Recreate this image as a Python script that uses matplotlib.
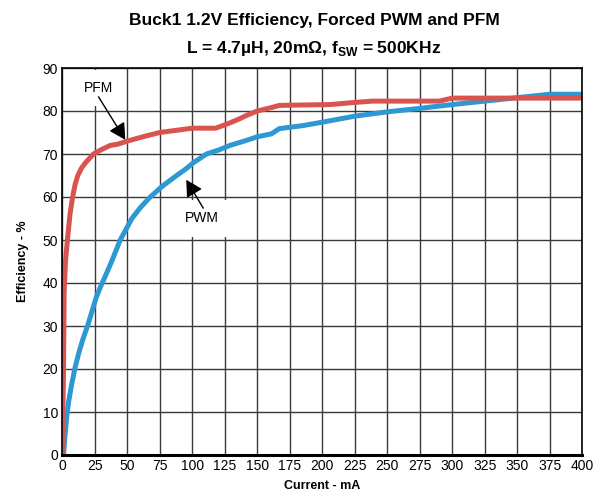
import matplotlib
matplotlib.use("Agg")
import matplotlib.pyplot as plt

plt.rcParams['font.family'] = ['Liberation Sans', 'DejaVu Sans']
plt.rcParams['mathtext.fontset'] = 'custom'
plt.rcParams['mathtext.rm'] = 'Liberation Sans'
plt.rcParams['mathtext.bf'] = 'Liberation Sans:bold'

# PFM data (current mA, efficiency %)
pfm_x = [0, 1, 1.5, 2.5, 4, 6, 8, 10, 12, 15, 18, 21, 24, 30, 37, 43, 50, 62, 75, 90, 100, 118, 127, 135, 142, 150, 161, 167, 185, 206, 225, 239, 275, 290, 300, 350, 400]
pfm_y = [0, 20, 38, 45, 50, 56, 60, 63, 65, 66.8, 68, 69, 70, 71, 72, 72.3, 73, 74, 75, 75.6, 76, 76, 77, 78, 79, 80, 80.8, 81.3, 81.4, 81.5, 82, 82.3, 82.3, 82.3, 83, 83, 83]

# PWM data
pwm_x = [1, 2, 3.5, 5, 7, 10, 13, 16, 20, 23, 26, 29, 33, 38, 44.6, 53.6, 60, 67.7, 77, 88, 95, 101, 111, 121, 129, 140, 150, 161, 167, 185, 200, 225, 250, 275, 283, 300, 325, 350, 375, 400]
pwm_y = [0, 4, 9, 12.5, 16, 20.5, 24, 27, 30.5, 33.5, 36.5, 38.8, 41.5, 45, 50, 55, 57.5, 60, 62.5, 65, 66.5, 68, 70, 71, 72, 73, 74, 74.7, 75.9, 76.6, 77.4, 78.8, 79.8, 80.6, 80.9, 81.5, 82.3, 83.1, 83.9, 83.9]

x_ticks = list(range(0, 401, 25))
y_ticks = list(range(0, 91, 10))

fig = plt.figure(figsize=(6.04, 5.0), dpi=100)
ax = fig.add_axes([0.103, 0.09, 0.861, 0.774])

red = '#d9534f'
blue = '#2e98d3'
ax.plot(pwm_x, pwm_y, color=blue, lw=3.6, solid_capstyle='butt', zorder=3)
ax.plot(pfm_x, pfm_y, color=red, lw=3.6, solid_capstyle='butt', zorder=3)

ax.set_xlim(0, 400)
ax.set_ylim(0, 90)
ax.set_xticks(x_ticks)
ax.set_yticks(y_ticks)
ax.tick_params(axis='both', labelsize=10, length=0, pad=3)
ax.grid(True, color='#3a3a3a', lw=1.0, zorder=1)
for s in ax.spines.values():
    s.set_color('black')
    s.set_linewidth(1.2)
    s.set_zorder(6)
ax.spines['bottom'].set_linewidth(2.2)

ax.set_xlabel('Current - mA', fontsize=9, fontweight='bold', labelpad=5)
ax.set_ylabel('Efficiency - %', fontsize=9, fontweight='bold', labelpad=10)

fig.text(0.52, 0.958, 'Buck1 1.2V Efficiency, Forced PWM and PFM', ha='center', va='center',
         fontsize=12.5, fontweight='bold')
fig.text(0.52, 0.902, r'L = 4.7µH, 20mΩ, $\mathbf{f}_{\mathbf{SW}}$ = 500KHz', ha='center', va='center',
         fontsize=12.5, fontweight='bold')

# label boxes (white background interrupting grid) and arrows
ax.text(27.7, 85.3, 'PFM', fontsize=10, ha='center', va='center', zorder=2,
        bbox=dict(boxstyle='square,pad=0.8', fc='white', ec='none'))
ax.text(107.5, 55.0, 'PWM', fontsize=10, ha='center', va='center', zorder=2,
        bbox=dict(boxstyle='square,pad=0.85', fc='white', ec='none'))

arrow = dict(arrowstyle='-|>,head_length=0.55,head_width=0.3', color='black', lw=1.0,
             mutation_scale=18, shrinkA=0, shrinkB=0)
ax.annotate('', xy=(48.5, 73.3), xytext=(27.9, 83.3), arrowprops=arrow, zorder=5)
ax.annotate('', xy=(95.4, 64.0), xytext=(108.5, 57.4), arrowprops=arrow, zorder=5)

fig.savefig('out.png', dpi=100)
